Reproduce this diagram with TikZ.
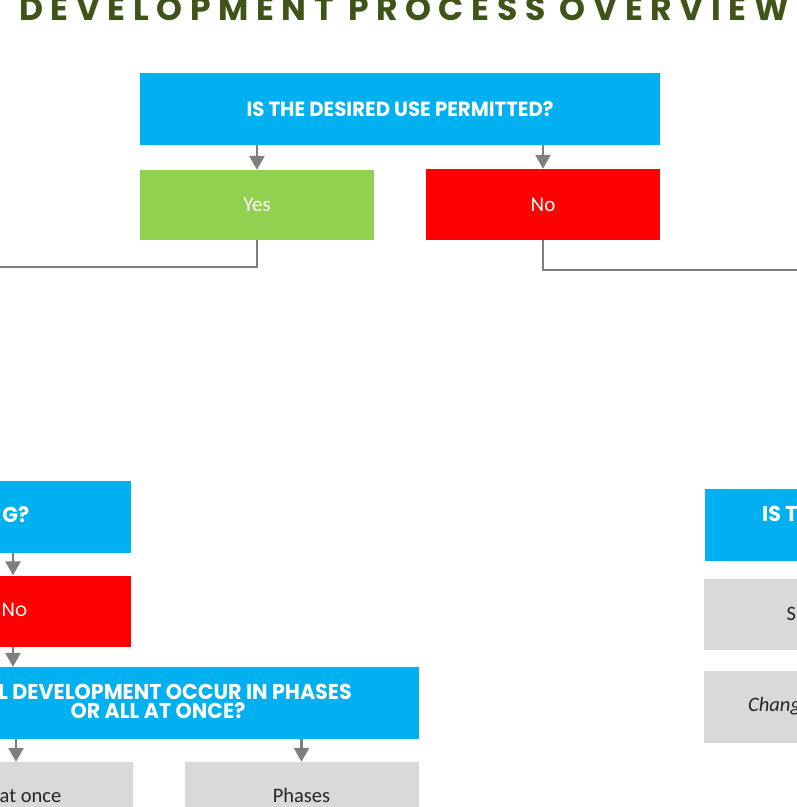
\documentclass[tikz,border=0pt]{standalone}
\usepackage{fontspec}
\setmainfont{Carlito}
\newfontfamily\headfont[FakeStretch=0.96]{Poppins}
\newfontfamily\titlefont[LetterSpace=23]{Poppins}
\newfontfamily\geofont{Poppins}
\usetikzlibrary{arrows.meta}
\definecolor{qblue}{HTML}{00B0F0}
\definecolor{qgreen}{HTML}{92D050}
\definecolor{qred}{HTML}{FF0000}
\definecolor{qgray}{HTML}{D9D9D9}
\definecolor{qline}{HTML}{7F7F7F}
\definecolor{qtitle}{HTML}{3F5418}
\definecolor{qtext}{HTML}{262626}
\tikzset{
  box/.style={rectangle, inner sep=0pt, minimum width=234pt, minimum height=71pt, draw=none},
  wide/.style={box, minimum width=521pt, minimum height=72pt},
  bluebox/.style={box, fill=qblue},
  greenbox/.style={box, fill=qgreen},
  redbox/.style={box, fill=qred},
  graybox/.style={box, fill=qgray},
  headfnt/.style={font=\headfont\bfseries\fontsize{20.5}{20.5}\selectfont},
  headtxt/.style={inner sep=0pt, text=white, headfnt},
  bigheadtxt/.style={inner sep=0pt, text=white, font=\headfont\bfseries\fontsize{21.5}{21.5}\selectfont},
  whitetxt/.style={inner sep=0pt, text=white, font=\fontsize{21}{21}\selectfont},
  darktxt/.style={inner sep=0pt, text=qtext, font=\fontsize{20.5}{20.5}\selectfont},
  arr/.style={draw=qline, line width=2.6pt, -{Triangle[length=14pt,width=15pt]}},
  conn/.style={draw=qline, line width=2.6pt},
}
\begin{document}
\begin{tikzpicture}[x=1pt,y=-1pt]
\useasboundingbox (0,0) rectangle (797,807);
\clip (0,0) rectangle (797,807);
% title
\node[inner sep=0pt, anchor=base, text=qtitle, font=\titlefont\bfseries\fontsize{33}{33}\selectfont] (title) at (404,20.5) {DEVELOPMENT PROCESS OVERVIEW};
% top
\node[bluebox, minimum width=520pt, minimum height=72pt] (q1) at (400,109) {};
\node[headtxt] (q1t) at (q1.center) {IS THE DESIRED USE PERMITTED?};
\node[greenbox, minimum height=70pt] (yes) at (257,205) {};
\node[whitetxt] (yest) at (yes.center) {Yes};
\node[redbox] (no) at (543,204.5) {};
\node[whitetxt] (not) at (no.center) {No};
\draw[arr] (q1.south -| yes.north) -- (yes.north);
\draw[arr] (q1.south -| no.north) -- (no.north);
\coordinate (yesend) at (-10,267);
\coordinate (noend) at (810,270);
\draw[conn] (yes.south) |- (yesend);
\draw[conn] (no.south) |- (noend);
% lower left
\node[bluebox, minimum height=72pt] (q2) at (14,517) {};
\node[bigheadtxt, anchor=base east] (q2t) at (29.5,522) {G?};
\node[redbox] (no2) at (14,611) {};
\node[inner sep=0pt, anchor=base west, text=white, font=\geofont\fontsize{19}{19}\selectfont] (no2t) at (1.5,616.5) {No};
\draw[arr] (q2.south -| 13,0) -- (no2.north -| 13,0);
\node[bluebox, wide] (q3) at (158,703) {};
\draw[arr] (no2.south -| 13,0) -- (q3.north -| 13,0);
\node[bigheadtxt, anchor=base east, text depth=0pt] (q3a) at (352,699) {L DEVELOPMENT OCCUR IN PHASES};
\node[bigheadtxt, anchor=base] (q3b) at (158,718) {OR ALL AT ONCE?};
\node[graybox] (once) at (16,797.5) {};
\node[darktxt, anchor=base west] (oncet) at (-0.5,802) {at once};
\node[graybox] (phases) at (301.5,797.5) {};
\node[darktxt, anchor=base] (phasest) at (301.5,802) {Phases};
\draw[arr] (q3.south -| once.north) -- (once.north);
\draw[arr] (q3.south -| phases.north) -- (phases.north);
% right
\node[bluebox, minimum height=72pt] (q4) at (822,525) {};
\node[bigheadtxt, anchor=base west] (q4t) at (762,521) {IS TH};
\node[graybox] (s) at (821,614.5) {};
\node[darktxt, anchor=base west] (st) at (786.5,620) {S};
\node[graybox, minimum height=72pt] (chg) at (821,707) {};
\node[darktxt, anchor=base west, font=\itshape\fontsize{20.5}{20.5}\selectfont] (chgt) at (748,711) {Chang};
\end{tikzpicture}
\end{document}
